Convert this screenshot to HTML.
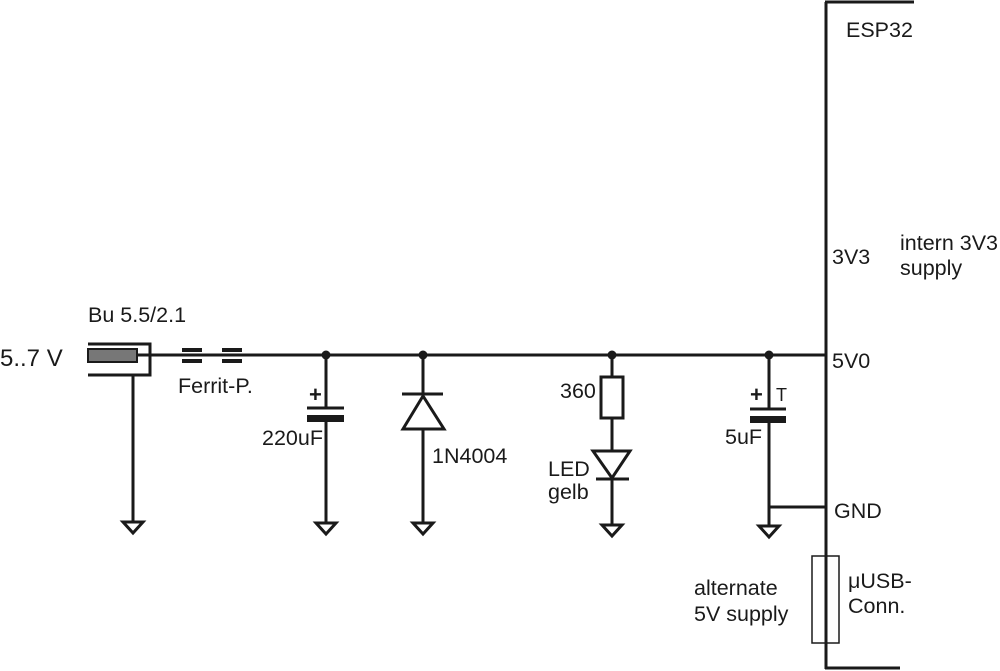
<!DOCTYPE html>
<html><head><meta charset="utf-8"><style>
html,body{margin:0;padding:0;background:#fff;}
svg{display:block;}
text{font-family:"Liberation Sans",sans-serif;font-size:21.5px;fill:#1a1a1a;}
</style></head><body>
<svg width="1000" height="671" viewBox="0 0 1000 671" xmlns="http://www.w3.org/2000/svg">
<g stroke="#1a1a1a" stroke-width="3" fill="none">
<line x1="826" y1="2" x2="826" y2="669"/>
<line x1="825" y1="2" x2="914" y2="2"/>
<line x1="825" y1="668" x2="900" y2="668"/>
<line x1="137" y1="355" x2="826" y2="355"/>
<polyline points="88,344 150,344 150,375 88,375"/>
<line x1="133" y1="375" x2="133" y2="521"/>
<g stroke-width="4">
<line x1="182" y1="350" x2="202" y2="350"/><line x1="182" y1="361" x2="202" y2="361"/>
<line x1="222" y1="350" x2="242" y2="350"/><line x1="222" y1="361" x2="242" y2="361"/>
</g>
<line x1="326" y1="355" x2="326" y2="408"/>
<line x1="307" y1="408" x2="344" y2="408"/>
<line x1="326" y1="418" x2="326" y2="523"/>
<line x1="423" y1="355" x2="423" y2="523"/>
<line x1="402" y1="394" x2="443" y2="394"/>
<line x1="612" y1="355" x2="612" y2="377"/>
<rect x="601" y="377" width="22" height="41"/>
<line x1="612" y1="418" x2="612" y2="524"/>
<line x1="596" y1="479" x2="629" y2="479"/>
<line x1="769" y1="355" x2="769" y2="409"/>
<line x1="750" y1="409" x2="786" y2="409"/>
<line x1="769" y1="419" x2="769" y2="525"/>
<line x1="769" y1="507" x2="826" y2="507"/>
</g>
<rect x="307" y="415" width="37" height="7" fill="#1a1a1a"/>
<rect x="750" y="416" width="36" height="7" fill="#1a1a1a"/>
<rect x="88" y="349" width="49" height="13" fill="#777" stroke="#1a1a1a" stroke-width="2"/>
<polygon points="423,396 403,429 444,429" fill="#fff" stroke="#1a1a1a" stroke-width="3"/>
<polygon points="593,451 630,451 612,478" fill="#fff" stroke="#1a1a1a" stroke-width="3"/>
<rect x="812" y="556" width="27" height="87" fill="none" stroke="#1a1a1a" stroke-width="1.5"/>
<g fill="#fff" stroke="#1a1a1a" stroke-width="3">
<polygon points="123,522 143,522 133,533"/>
<polygon points="316,523 336,523 326,534"/>
<polygon points="413,523 433,523 423,534"/>
<polygon points="602,525 622,525 612,536"/>
<polygon points="759,526 779,526 769,537"/>
</g>
<g fill="#1a1a1a">
<circle cx="326" cy="355" r="4.5"/><circle cx="423" cy="355" r="4.5"/>
<circle cx="612" cy="355" r="4.5"/><circle cx="769" cy="355" r="4.5"/>
</g>
<text x="0" y="366" style="font-size:24px">5..7 V</text>
<text x="88" y="322">Bu 5.5/2.1</text>
<text x="178" y="393">Ferrit-P.</text>
<text x="309" y="402" style="font-size:22px;font-weight:bold">+</text>
<text x="262" y="445">220uF</text>
<text x="432" y="463">1N4004</text>
<text x="560" y="398">360</text>
<text x="548" y="476">LED</text>
<text x="548" y="499">gelb</text>
<text x="750" y="402" style="font-size:22px;font-weight:bold">+</text>
<text x="776" y="401" style="font-size:18px">T</text>
<text x="725" y="444">5uF</text>
<text x="846" y="37">ESP32</text>
<text x="832" y="264">3V3</text>
<text x="900" y="250">intern 3V3</text>
<text x="900" y="275">supply</text>
<text x="832" y="368">5V0</text>
<text x="834" y="518">GND</text>
<text x="694" y="595">alternate</text>
<text x="694" y="621">5V supply</text>
<text x="848" y="588">μUSB-</text>
<text x="848" y="613">Conn.</text>
</svg>
</body></html>
